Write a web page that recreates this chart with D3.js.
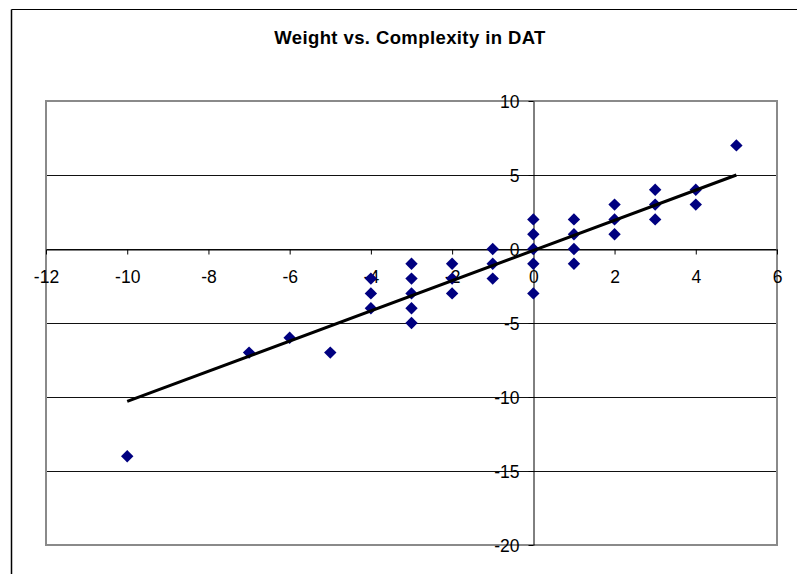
<!DOCTYPE html>
<html>
<head>
<meta charset="utf-8">
<script src="https://cdn.jsdelivr.net/npm/d3@7"></script>
<style>
  html, body { margin: 0; padding: 0; background: #fff; }
  svg { display: block; }
  text { font-family: "Liberation Sans", Arial, sans-serif; fill: #000; }
</style>
</head>
<body>
<svg id="chart" width="797" height="574"></svg>
<script>
// Observations: complexity change (x) against weight change (y)
const xValues = [-10, -7, -6, -5, -4, -4, -4, -3, -3, -3, -3, -3, -2, -2, -2,
                 -1, -1, -1, 0, 0, 0, 0, 0, 1, 1, 1, 1, 2, 2, 2, 3, 3, 3, 4, 4, 5];
const yValues = [-14, -7, -6, -7, -2, -3, -4, -1, -2, -3, -4, -5, -1, -2, -3,
                 0, -1, -2, 2, 1, 0, -1, -3, 2, 1, 0, -1, 3, 2, 1, 4, 3, 2, 4, 3, 7];

// Linear trendline, start and end points
const trendX = [-10, 5];
const trendY = [-10.3, 5.0];

const xTicks = [-12, -10, -8, -6, -4, -2, 0, 2, 4, 6];
const yTicks = [10, 5, 0, -5, -10, -15, -20];

const titleText = "Weight vs. Complexity in DAT";

const svg = d3.select("#chart");

// Outer chart frame (top and left edges)
svg.append("line").attr("x1", 11.5).attr("x2", 797).attr("y1", 9.5).attr("y2", 9.5)
  .attr("stroke", "#000").attr("stroke-width", 1.2);
svg.append("line").attr("x1", 11.5).attr("x2", 11.5).attr("y1", 9.5).attr("y2", 574)
  .attr("stroke", "#000").attr("stroke-width", 1.5);

const plot = { left: 46, right: 777, top: 101, bottom: 545 };

const x = d3.scaleLinear().domain([-12, 6]).range([plot.left, plot.right]);
const y = d3.scaleLinear().domain([-20, 10]).range([plot.bottom, plot.top]);

// Plain hyphen-minus labels
const fmt = d => String(d);

// Title
svg.append("text")
  .attr("x", 410).attr("y", 44)
  .attr("text-anchor", "middle")
  .attr("font-size", 18.5).attr("font-weight", "bold")
  .attr("letter-spacing", 0.4)
  .text(titleText);

// Horizontal gridlines
svg.append("g").selectAll("line")
  .data(yTicks.filter(v => v !== 10 && v !== -20))
  .join("line")
  .attr("x1", plot.left).attr("x2", plot.right)
  .attr("y1", d => Math.round(y(d)) + 0.5).attr("y2", d => Math.round(y(d)) + 0.5)
  .attr("stroke", "#111").attr("stroke-width", 1.2);

// Plot area border
svg.append("rect")
  .attr("x", plot.left).attr("y", plot.top)
  .attr("width", plot.right - plot.left).attr("height", plot.bottom - plot.top)
  .attr("fill", "none").attr("stroke", "#8a8a8a").attr("stroke-width", 2);

// X axis crossing at y = 0
const xAxis = d3.axisBottom(x).tickValues(xTicks).tickSize(5).tickSizeOuter(0)
  .tickFormat(fmt);
const gx = svg.append("g")
  .attr("transform", `translate(0,${Math.round(y(0)) + 0.5})`)
  .call(xAxis);
gx.select(".domain").attr("stroke", "#000");
gx.selectAll(".tick line").attr("stroke", "#000");
gx.selectAll(".tick text")
  .attr("font-size", 17.5).attr("font-family", "Liberation Sans, Arial, sans-serif")
  .attr("fill", "#000").attr("dy", 0).attr("y", 33);

// Y axis crossing at x = 0
const yAxis = d3.axisLeft(y).tickValues(yTicks).tickSize(5).tickSizeOuter(0)
  .tickFormat(fmt);
const gy = svg.append("g")
  .attr("transform", `translate(${Math.round(x(0)) + 0.5},0)`)
  .call(yAxis);
gy.select(".domain").attr("stroke", "#000");
gy.selectAll(".tick line").attr("stroke", "#000");
gy.selectAll(".tick text")
  .attr("font-size", 17.5).attr("font-family", "Liberation Sans, Arial, sans-serif")
  .attr("fill", "#000").attr("x", -14).attr("dy", "0.36em");

// Data points as diamonds (half-diagonal r)
const diamondType = {
  draw(ctx, size) {
    const r = Math.sqrt(size / 2);
    ctx.moveTo(0, -r); ctx.lineTo(r, 0); ctx.lineTo(0, r); ctx.lineTo(-r, 0); ctx.closePath();
  }
};
const pts = xValues.map((v, i) => ({ x: v, y: yValues[i] }));
const diamond = d3.symbol().type(diamondType).size(2 * 6.2 * 6.2);
svg.append("g").selectAll("path")
  .data(pts)
  .join("path")
  .attr("d", diamond)
  .attr("transform", d => `translate(${x(d.x)},${y(d.y)})`)
  .attr("fill", "#000080");

// Trendline
const line = d3.line().x(d => x(d[0])).y(d => y(d[1]));
svg.append("path")
  .datum(trendX.map((v, i) => [v, trendY[i]]))
  .attr("d", line)
  .attr("fill", "none").attr("stroke", "#000").attr("stroke-width", 3);
</script>
</body>
</html>
